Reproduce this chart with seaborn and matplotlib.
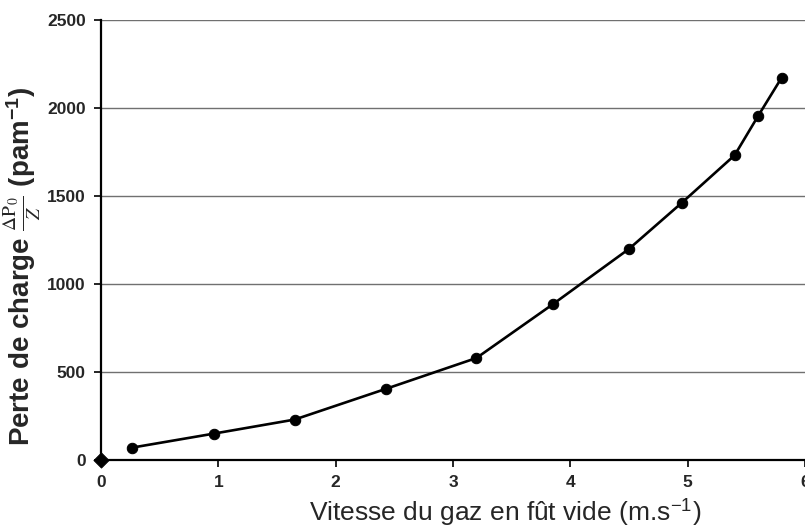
import matplotlib
matplotlib.use("Agg")
import matplotlib.pyplot as plt
import seaborn as sns
import pandas as pd

# gas velocity (m/s) and pressure drop (Pa/m)
vitesse = [0.26, 0.96, 1.65, 2.43, 3.20, 3.85, 4.50, 4.95, 5.40, 5.60, 5.80]
perte = [70, 150, 230, 405, 580, 885, 1200, 1462, 1732, 1955, 2172]
# origin point drawn as a separate series
origine_x = [0]
origine_y = [0]

x_ticks = [0, 1, 2, 3, 4, 5, 6]
y_ticks = [0, 500, 1000, 1500, 2000, 2500]

sns.set_style("white")
plt.rcParams['font.family'] = ['Liberation Sans', 'DejaVu Sans']
plt.rcParams['mathtext.fontset'] = 'stix'

df = pd.DataFrame({'vitesse': vitesse, 'perte': perte})

fig = plt.figure(figsize=(8.05, 5.3), dpi=100)
ax = fig.add_axes([0.1255, 0.132, 0.8745, 0.830])

for yv in y_ticks[1:]:
    ax.axhline(yv, color='#707070', linewidth=1.0, zorder=0)

sns.lineplot(data=df, x='vitesse', y='perte', ax=ax, color='black',
             linewidth=1.9, marker='o', markersize=7.5, markeredgecolor='black',
             clip_on=False)
sns.scatterplot(x=origine_x, y=origine_y, ax=ax, marker='D', s=60, color='black',
                edgecolor='black', clip_on=False, zorder=5)

ax.set_xlim(0, 6)
ax.set_ylim(0, 2500)
ax.set_xticks(x_ticks)
ax.set_yticks(y_ticks)
ax.set_xticklabels([str(t) for t in x_ticks], fontsize=12.5, fontweight='bold')
ax.set_yticklabels([str(t) for t in y_ticks], fontsize=12.5, fontweight='bold')
ax.tick_params(axis='both', direction='out', length=5, width=1.2, color='black',
               bottom=True, left=True, pad=6)

for side in ['top', 'right']:
    ax.spines[side].set_visible(False)
for side in ['left', 'bottom']:
    ax.spines[side].set_color('black')
    ax.spines[side].set_linewidth(1.6)

ax.set_xlabel(r'Vitesse du gaz en fût vide (m.s$^{\mathregular{-1}}$)', fontsize=19)
ax.set_ylabel(r'Perte de charge $\frac{\Delta \mathrm{P}_0}{Z}$ (pam$^{\mathregular{-1}}$)',
              fontsize=20, fontweight='bold')
ax.xaxis.set_label_coords(0.574, -0.082)
ax.yaxis.set_label_coords(-0.082, 0.44)

fig.savefig('out.png', dpi=100)
